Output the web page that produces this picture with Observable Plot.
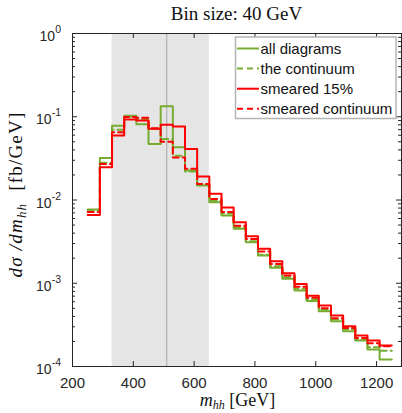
<!DOCTYPE html>
<html><head><meta charset="utf-8">
<script src="https://cdn.jsdelivr.net/npm/d3@7"></script>
<script src="https://cdn.jsdelivr.net/npm/@observablehq/plot@0.6"></script>
<style>body{margin:0;background:#fff;} #chart svg{display:block;}</style>
</head><body><div id="chart"></div>
<script>
// ---- data ----
const binEdges = [250,290,330,370,410,450,490,530,570,610,650,690,730,770,810,850,890,930,970,1010,1050,1090,1130,1170,1210,1250];
const allDiagrams = [0.0077,0.032,0.078,0.103,0.081,0.047,0.134,0.043,0.0226,0.0149,0.0094,0.0065,0.0045,0.0031,0.00215,0.00153,0.00113,0.00082,0.00061,0.00046,0.00035,0.000265,0.000205,0.00016,0.000121];
const continuum = [0.0076,0.028,0.070,0.100,0.094,0.072,0.054,0.034,0.022,0.0152,0.0098,0.0069,0.0047,0.0032,0.0022,0.0016,0.00118,0.00086,0.00064,0.00048,0.00037,0.00028,0.00021,0.00017,0.000155];
const smeared15 = [0.0066,0.0248,0.0596,0.0926,0.090,0.0716,0.080,0.0763,0.041,0.0191,0.0119,0.0081,0.0054,0.00367,0.00259,0.00184,0.00132,0.00098,0.00071,0.00054,0.00041,0.000305,0.000236,0.000205,0.000179];
const smearedContinuum = [0.0072,0.027,0.065,0.099,0.097,0.073,0.050,0.0325,0.0237,0.0156,0.0103,0.0072,0.0049,0.0034,0.0024,0.0017,0.00124,0.00091,0.00067,0.0005,0.00038,0.00029,0.00022,0.00019,0.000175];
const seriesNames = ["all diagrams","the continuum","smeared 15%","smeared continuum"];
const band = [330, 650];
const vline = [510];
const xTicks = [200,400,600,800,1000,1200];
const yMajor = [1e-4,1e-3,1e-2,1e-1,1];
const yExponents = ["-4","-3","-2","-1","0"];
const titleText = "Bin size: 40 GeV";

// ---- layout ----
const W = 402, H = 413, mL = 72, mR = 1, mT = 33, mB = 47;
const plotW = W - mL - mR, plotH = H - mT - mB;
const GREEN = "#77AC30", RED = "#ff0000", AX = "#262626";
const SERIF = "'Liberation Serif', 'Times New Roman', serif";
const SANS = "'Liberation Sans', Arial, sans-serif";

function steps(vals) {
  const r = vals.map((v, i) => ({x: binEdges[i], y: v}));
  r.push({x: binEdges[binEdges.length - 1], y: vals[vals.length - 1]});
  return r;
}
const yMinor = [];
for (let k = 0; k < yMajor.length - 1; k++) for (let m = 2; m <= 9; m++) yMinor.push(yMajor[k] * m);

const styles = [
  {vals: allDiagrams, stroke: GREEN, dash: null},
  {vals: continuum, stroke: GREEN, dash: "6,4"},
  {vals: smeared15, stroke: RED, dash: null},
  {vals: smearedContinuum, stroke: RED, dash: "6,4"}
];

const chart = Plot.plot({
  width: W, height: H, marginLeft: mL, marginRight: mR, marginTop: mT, marginBottom: mB,
  style: {background: "#fff", fontFamily: SANS, fontSize: "15px", color: AX},
  x: {domain: [200, 1282]},
  y: {type: "log", domain: [1e-4, 1]},
  marks: [
    Plot.rect([band], {x1: d => d[0], x2: d => d[1], fill: "#e5e5e5"}),
    Plot.ruleX(vline, {stroke: "#a6a6a6", strokeWidth: 1}),
    ...styles.map(s => Plot.line(steps(s.vals), {x: "x", y: "y", curve: "step-after", stroke: s.stroke, strokeWidth: 2, strokeDasharray: s.dash})),
    Plot.ruleX(xTicks, {insetTop: plotH - 5, stroke: AX}),
    Plot.ruleX(xTicks, {insetBottom: plotH - 5, stroke: AX}),
    Plot.ruleY(yMajor, {insetRight: plotW - 5, stroke: AX}),
    Plot.ruleY(yMajor, {insetLeft: plotW - 5, stroke: AX}),
    Plot.ruleY(yMinor, {insetRight: plotW - 3, stroke: AX}),
    Plot.ruleY(yMinor, {insetLeft: plotW - 3, stroke: AX}),
    Plot.frame({stroke: AX}),
    Plot.axisX(xTicks, {tickSize: 0, tickPadding: 11, tickFormat: d => String(d), fill: AX, fontSize: 15, label: null}),
    Plot.axisY({ticks: [], label: null})
  ]
});
document.getElementById("chart").appendChild(chart);

const svg = d3.select(chart);
const ys = chart.scale("y");
// y tick labels with superscripts
yMajor.forEach((v, i) => {
  const t = svg.append("text").attr("x", mL - 11).attr("y", ys.apply(v) + 8)
    .attr("text-anchor", "end").attr("fill", AX)
    .style("font-family", SANS).style("font-size", "14px");
  t.append("tspan").text("10");
  t.append("tspan").attr("dy", -8).style("font-size", "10.5px").text(yExponents[i]);
});
// title
svg.append("text").attr("x", mL + plotW / 2).attr("y", 20).attr("text-anchor", "middle")
  .attr("fill", "#111").style("font-family", SERIF).style("font-size", "19px")
  .text(titleText);
// x label
const xl = svg.append("text").attr("x", mL + plotW / 2 + 1).attr("y", 406).attr("text-anchor", "middle")
  .attr("fill", "#111").style("font-family", SERIF).style("font-size", "18px");
xl.append("tspan").style("font-style", "italic").text("m");
xl.append("tspan").attr("dy", 3).style("font-style", "italic").style("font-size", "12px").text("hh");
xl.append("tspan").attr("dy", -3).text(" [GeV]");
// y label
const yl = svg.append("text").attr("transform", `translate(22,${mT + plotH / 2 - 5}) rotate(-90)`).attr("text-anchor", "middle")
  .attr("fill", "#111").style("font-family", SERIF).style("font-size", "19px").style("letter-spacing", "1.2px");
yl.append("tspan").style("font-style", "italic").text("dσ /dm");
yl.append("tspan").attr("dy", 4).style("font-style", "italic").style("font-size", "13px").text("hh");
yl.append("tspan").attr("dy", -4).text("  [fb/GeV]");
// legend
const lg = svg.append("g");
lg.append("rect").attr("x", 235.5).attr("y", 37).attr("width", 160.5).attr("height", 81.5)
  .attr("fill", "#fff").attr("stroke", "#b4b4b4").attr("stroke-width", 1.5);
seriesNames.forEach((name, i) => {
  const cy = 48.5 + i * 20.1;
  lg.append("line").attr("x1", 237).attr("x2", 259).attr("y1", cy).attr("y2", cy)
    .attr("stroke", styles[i].stroke).attr("stroke-width", 2).attr("stroke-dasharray", styles[i].dash);
  lg.append("text").attr("x", 260.5).attr("y", cy + 5.2).attr("fill", "#111").attr("text-anchor", "start")
    .style("font-family", SANS).style("font-size", "15px").text(name);
});
</script></body></html>
